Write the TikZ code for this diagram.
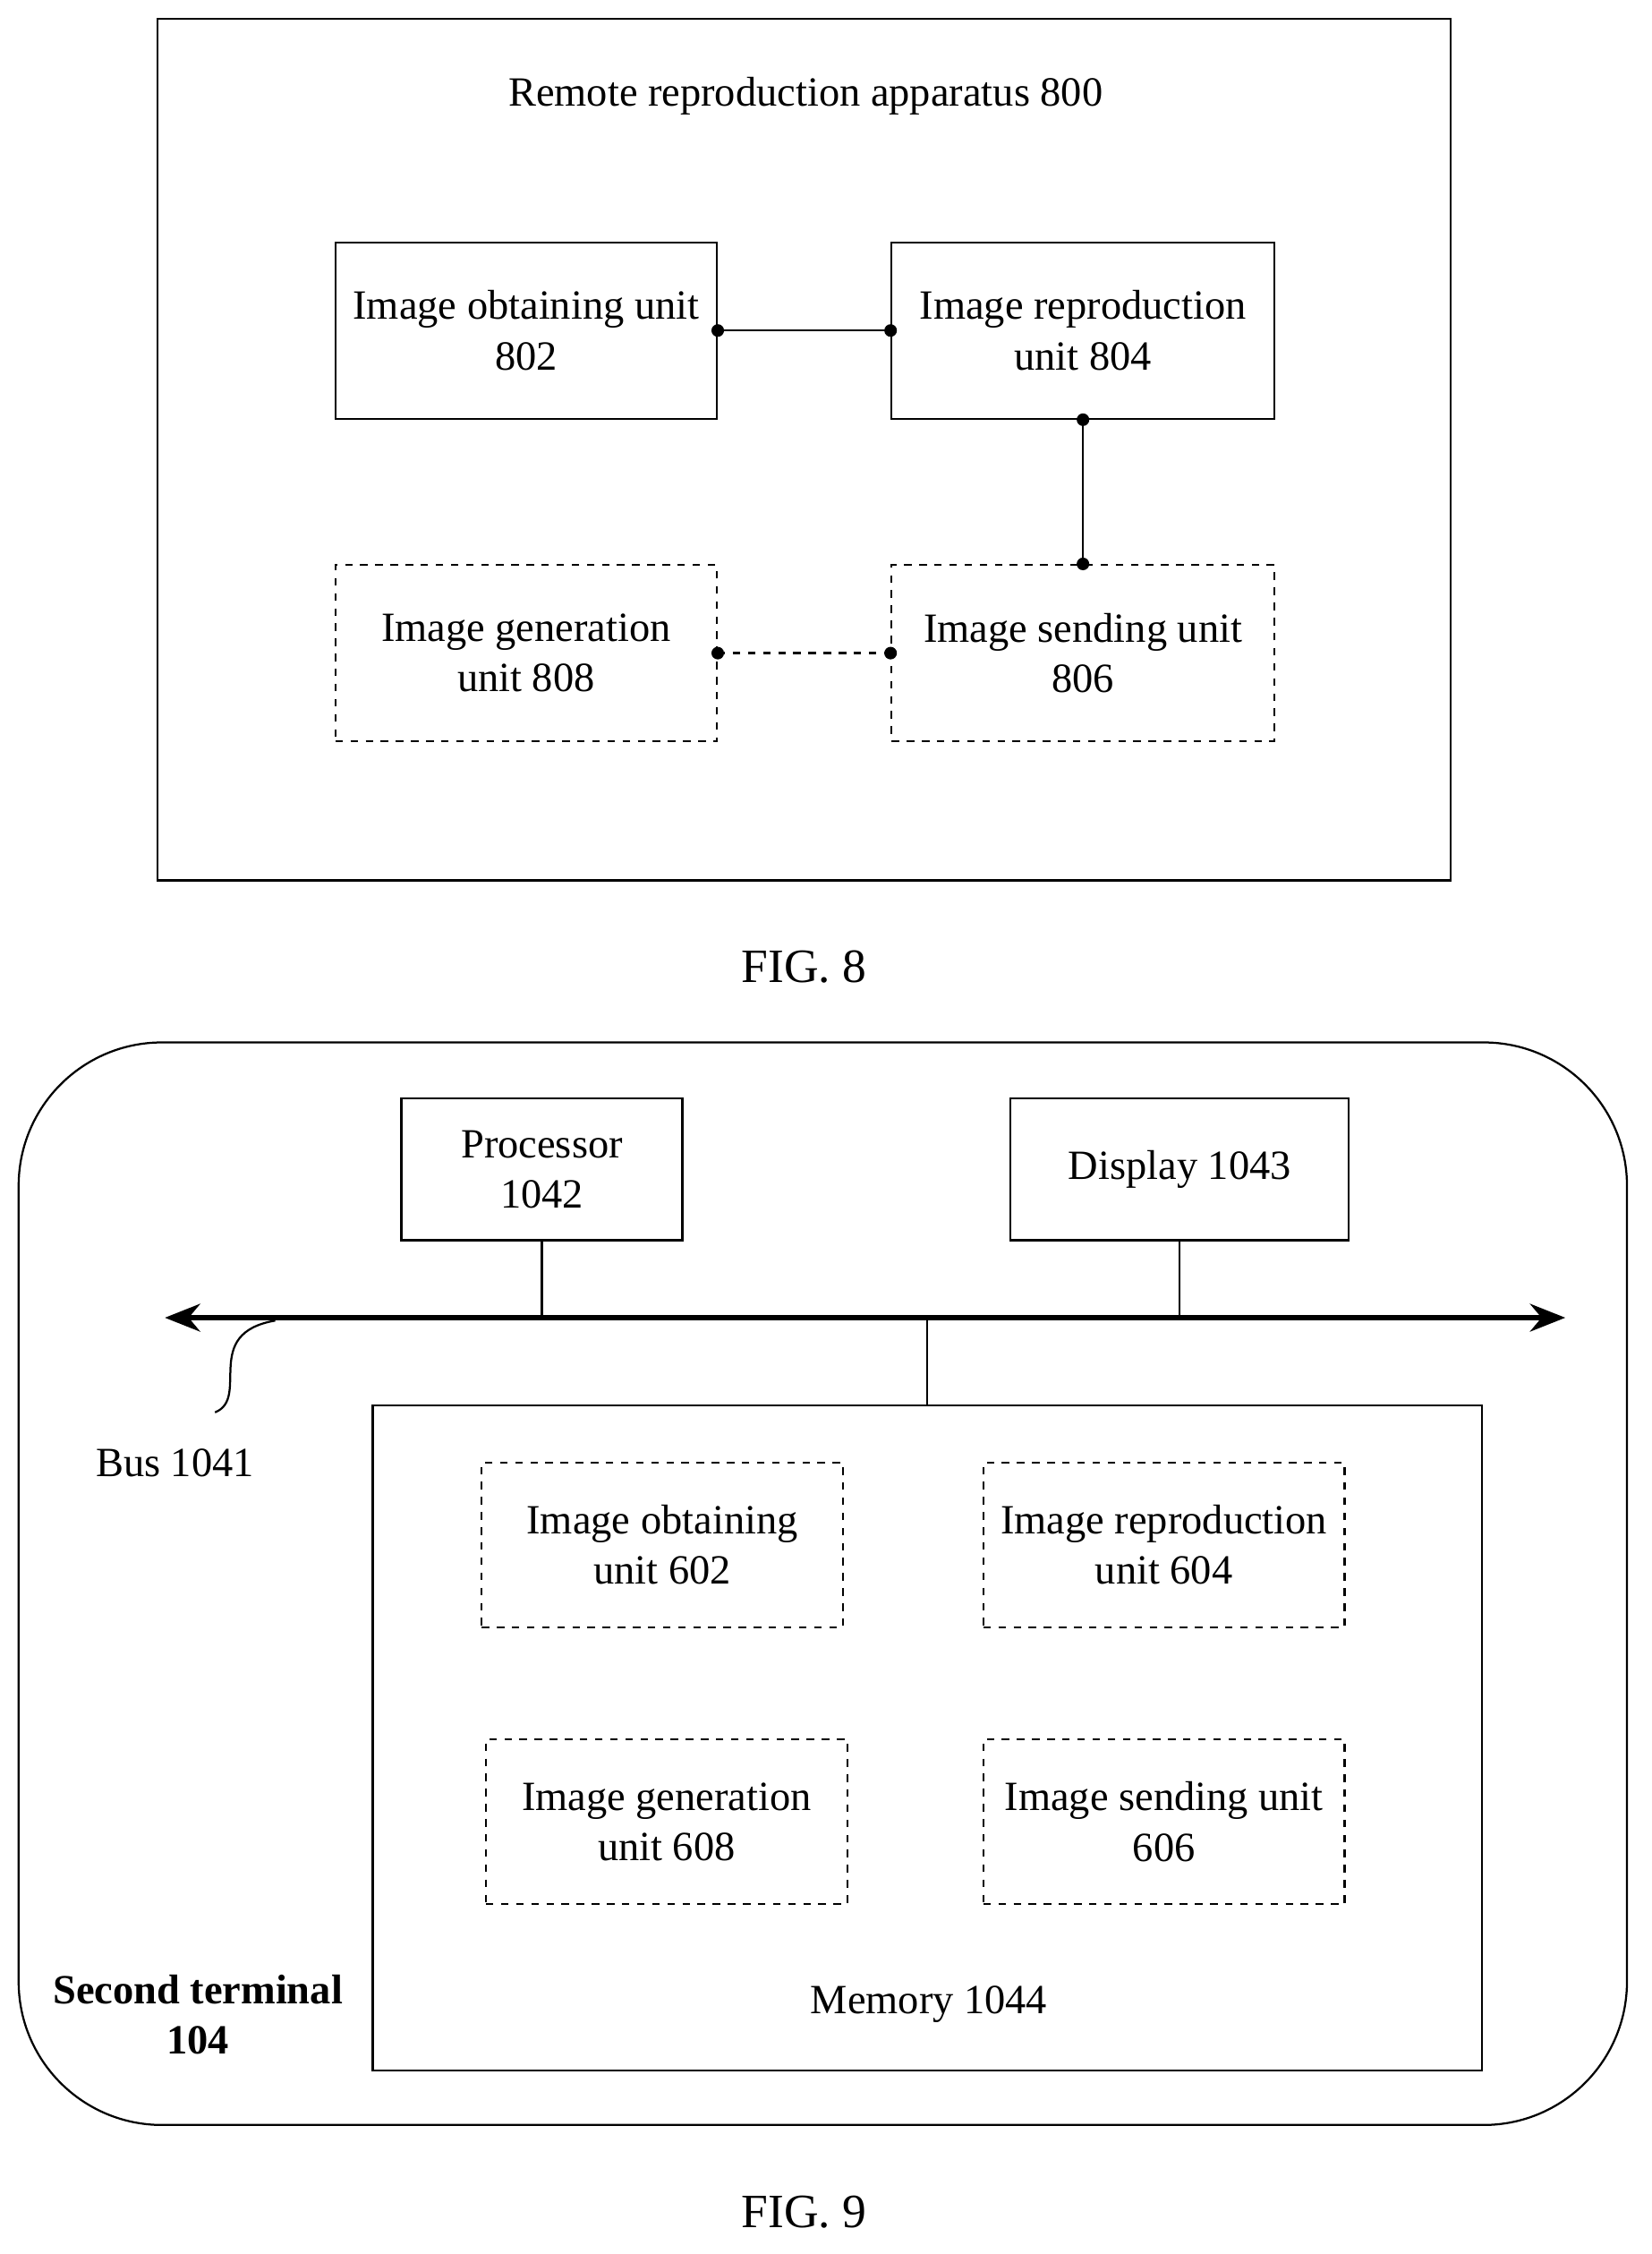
\documentclass[tikz,border=0pt]{standalone}
\usepackage{fontspec}
\setmainfont{Liberation Serif}
\usetikzlibrary{arrows.meta}
\tikzset{unit/.style={draw, thick, align=center, inner sep=0pt},
         dunit/.style={unit, dashed},
         dot/.style={circle, fill, inner sep=0pt, minimum size=5pt}}

\begin{document}
\begin{tikzpicture}[x=0.02cm, y=-0.02cm, font=\fontsize{16.5}{20}\selectfont]
                \useasboundingbox (0,0) rectangle (1152,1572);

                \node[unit, minimum width=902*0.02cm, minimum height=601*0.02cm] (app) at (561,313.5) {};
                \node (apptitle) at (562,67) {Remote reproduction apparatus 800};
                \node[unit, minimum width=266*0.02cm, minimum height=123*0.02cm] (u802) at (367,230.5) {Image obtaining unit\\802};
                \node[unit, minimum width=267*0.02cm, minimum height=123*0.02cm] (u804) at (755.5,230.5) {Image reproduction\\unit 804};
                \node[dunit, minimum width=266*0.02cm, minimum height=123*0.02cm] (u808) at (367,455.5) {Image generation\\unit 808};
                \node[dunit, minimum width=267*0.02cm, minimum height=123*0.02cm] (u806) at (755.5,455.5) {Image sending unit\\806};

                \draw[thick] (u802.east) -- (u804.west);
                \draw[thick] (u804.south) -- (u806.north);
                \draw[thick, dashed] (u808.east) -- (u806.west);
                \foreach \p in {u802.east, u804.west, u804.south, u806.north, u808.east, u806.west}
                    \node[dot] at (\p) {};

                \node (fig8) at (561,674) {\fontsize{19}{22}\selectfont FIG. 8};

                \draw[thick, rounded corners=100*0.02cm] (13,727) rectangle (1135,1482);
                \node[unit, minimum width=196*0.02cm, minimum height=99*0.02cm] (proc) at (378,815.5) {Processor\\1042};
                \node[unit, minimum width=236*0.02cm, minimum height=99*0.02cm] (disp) at (823,815.5) {Display 1043};
                \coordinate (busl) at (115,919);
                \coordinate (busr) at (1092,919);
                \draw[line width=2pt, {Stealth[length=14pt,width=11pt]}-{Stealth[length=14pt,width=11pt]}] (busl) -- (busr);
                \node[unit, minimum width=774*0.02cm, minimum height=464*0.02cm] (mem) at (647,1212) {};
                \node (memlabel) at (648,1398) {Memory 1044};
                \draw[thick] (proc.south) -- (proc.south |- busl);
                \draw[thick] (disp.south) -- (disp.south |- busl);
                \draw[thick] (mem.north) -- (mem.north |- busl);

                \node[dunit, minimum width=252*0.02cm, minimum height=115*0.02cm] (u602) at (462,1077.5) {Image obtaining\\unit 602};
                \node[dunit, minimum width=252*0.02cm, minimum height=115*0.02cm] (u604) at (812,1077.5) {Image reproduction\\unit 604};
                \node[dunit, minimum width=252*0.02cm, minimum height=115*0.02cm] (u608) at (465,1270.5) {Image generation\\unit 608};
                \node[dunit, minimum width=252*0.02cm, minimum height=115*0.02cm] (u606) at (812,1270.5) {Image sending unit\\606};

                \node (buslabel) at (122,1020) {Bus 1041};
                \coordinate (bustap) at (192,921);
                \draw[thick] (bustap) .. controls (140,930) and (175,975) .. (150,985);
                \node[font=\fontsize{16.5}{20}\selectfont\bfseries, align=center] (term) at (138,1405) {Second terminal\\104};

                \node (fig9) at (561,1543) {\fontsize{19}{22}\selectfont FIG. 9};
            \end{tikzpicture}
\end{document}
